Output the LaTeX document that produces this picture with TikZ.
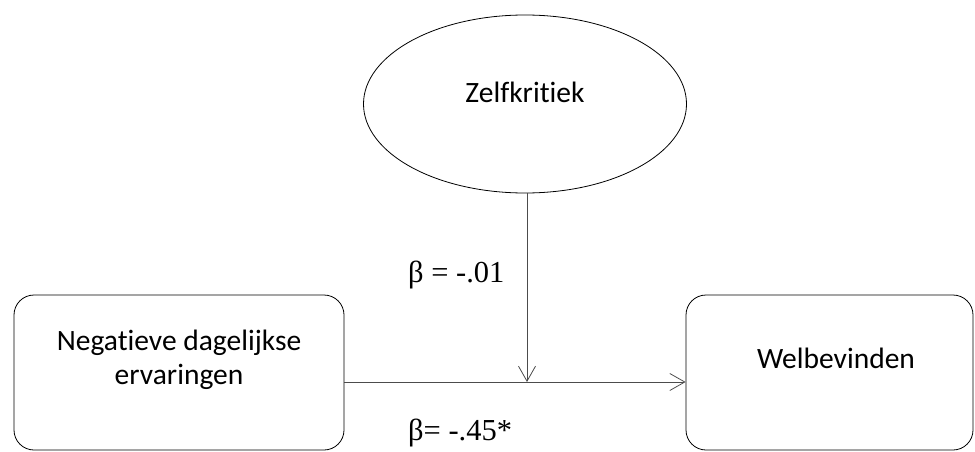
\documentclass[tikz,border=0pt]{standalone}
\usepackage{fontspec}
\setmainfont{Carlito}[Ligatures=NoCommon]
\newfontfamily\timesf{Liberation Serif}
\usetikzlibrary{shapes.geometric,arrows.meta}
\begin{document}
\begin{tikzpicture}[x=1pt,y=-1pt,
  boxstyle/.style={draw=black, line width=0.8pt, rounded corners=20pt, inner sep=0pt},
  ellstyle/.style={draw=black, line width=0.8pt, ellipse, inner sep=0pt, minimum width=323pt, minimum height=178pt},
  boxtext/.style={font=\fontsize{29.5}{34}\selectfont, align=center, inner sep=0pt},
  coeff/.style={font=\timesf\fontsize{30.5}{34}\selectfont, inner sep=0pt, anchor=west},
  conn/.style={draw=black!70, line width=0.8pt, -{Straight Barb[length=15pt, width=17pt, line width=0.8pt]}}]
\useasboundingbox (0,0) rectangle (975,452);
\node[ellstyle] (z) at (525,104) {};
\node[boxtext] (zt) at (525,92) {Zelfkritiek};
\node[boxstyle, minimum width=330pt, minimum height=155pt] (n) at (179,372.5) {};
\node[boxtext] (nt) at (179,360) {Negatieve dagelijkse\\ervaringen};
\node[boxstyle, minimum width=287pt, minimum height=155pt] (w) at (829.5,372.5) {};
\node[boxtext] (wt) at (836,358) {Welbevinden};
\coordinate (m) at (527,382);
\draw[conn] (m -| n.east) -- (m -| w.west);
\draw[conn] (m |- z.south) -- (m);
\node[coeff] (b1) at (408,275) {β = -.01};
\node[coeff] (b2) at (408,433) {β= -.45*};
\end{tikzpicture}
\end{document}
